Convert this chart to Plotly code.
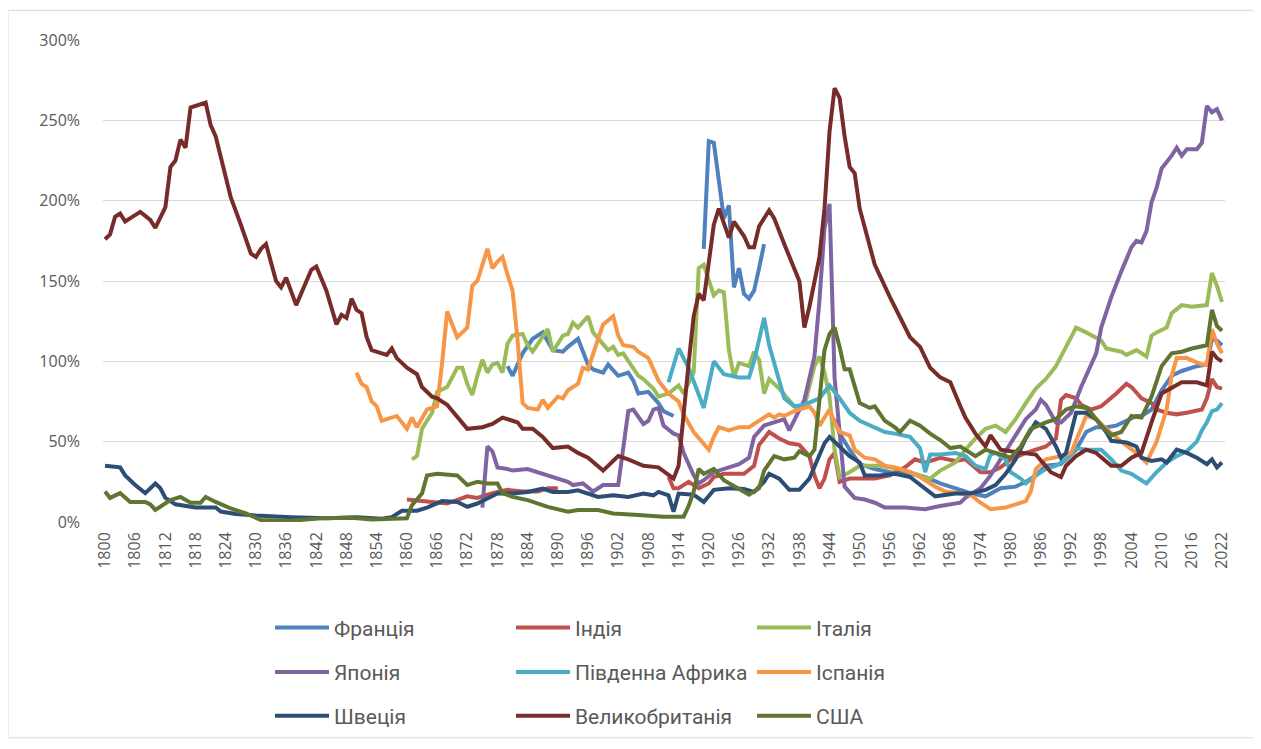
import plotly.graph_objects as go

# ---------------- data (debt, % of GDP) ----------------
france_years = [1880,1881,1883,1885,1887,1889,1891,1892,1894,1896,1897,1899,1900,1902,1904,1905,1906,1908,1910,1911,1913,1914,
                1919,1920,1921,1922,1923,1924,1925,1926,1927,1928,1929,1930,1931,1932,
                1945,1946,1948,1950,1953,1956,1960,1963,1966,1969,1972,1975,1978,1981,1983,1985,1987,1990,1993,1995,1997,1999,2001,2003,2005,2006,2008,2010,2012,2014,2017,2019,2020,2021,2022]
france_vals = [97,91,105,114,118,107,106,109,114,98,95,93,98,91,93,88,80,81,74,69,66,None,
               170,237,236,214,189,197,146,158,142,139,144,158,173,None,
               64,55,45,36,33,31,30,28,24,21,18,16,21,22,25,29,35,36,45,56,59,59,60,63,66,66,70,82,91,94,97,98,114,113,110]

india_years = [1860,1864,1868,1872,1874,1877,1880,1883,1886,1888,1890,1891,
               1912,1913,1914,1916,1918,1920,1921,1923,1927,1929,1930,1932,1934,1936,1938,1940,1941,1942,1943,1944,1945,1946,1948,1953,1956,1959,1961,1963,1966,1969,1971,1974,1976,1978,1980,1983,1987,1989,1990,1991,1993,1994,1996,1998,2001,2003,2004,2006,2008,2009,2011,2013,2015,2018,2019,2020,2021,2022]
india_vals = [14,13,11.5,16,15,18,20,19,19,21,21,None,
              28,21,21,25,21,24,28,30,30,35,48,56,52,49,48,41,29,21,27,39,43,25,27,27,29,34,39,37,40,38,39,31,31,34,39,43,47,52,76,79,77,73,70,72,80,86,84,77,74,70,68,67,68,70,77,89,84,83]

italy_years = [1861,1862,1863,1865,1866,1868,1870,1871,1872,1873,1874,1875,1876,1877,1878,1879,1880,1881,1883,1884,1885,1887,1888,1889,1891,1892,1893,1894,1896,1897,1899,1900,1901,1902,1903,1904,1906,1907,1909,1910,1912,1914,1915,1917,1918,1919,1920,1921,1922,1923,1924,1925,1926,1928,1929,1930,1931,1932,1934,1936,1937,1938,1939,1941,1942,1943,1944,1945,1946,1948,1950,1954,1958,1962,1964,1966,1969,1971,1973,1975,1977,1979,1981,1983,1985,1987,1989,1991,1993,1995,1998,1999,2002,2003,2005,2007,2008,2009,2011,2012,2014,2016,2019,2020,2021,2022]
italy_vals = [39,41,58,68,81,84,96,96,86,79,91,101,93,98,99,93,111,116,117,110,106,116,120,106,116,117,124,121,128,118,110,107,109,104,105,100,91,89,83,78,80,85,80,93,158,160,150,141,144,143,107,90,99,97,106,101,80,89,83,76,72,70,72,97,103,93,78,45,28,31,35,35,33,29,27,32,37,45,52,58,60,56,64,74,83,89,97,109,121,118,113,108,106,104,107,103,116,118,121,130,135,134,135,155,147,137]

japan_years = [1875,1876,1877,1878,1880,1881,1884,1886,1889,1892,1893,1895,1897,1899,1902,1903,1904,1905,1907,1908,1909,1910,1911,1913,1914,1915,1917,1918,1919,1921,1923,1926,1928,1929,1931,1934,1935,1936,1938,1939,1941,1942,1943,1944,1945,1946,1947,1949,1951,1953,1955,1959,1963,1966,1970,1971,1974,1976,1978,1980,1983,1985,1986,1987,1989,1990,1992,1994,1997,1998,2000,2002,2004,2005,2006,2007,2008,2009,2010,2012,2013,2014,2015,2017,2018,2019,2020,2021,2022]
japan_vals = [9,47,44,34,33,32,33,31,28,25,23,24,19,23,23,45,69,70,61,63,70,71,60,55,54,43,29,24,26,31,33,36,40,53,60,63,64,57,69,76,103,138,183,198,90,56,22,15,14,12,9,9,8,10,12,15,21,29,39,50,64,70,76,73,62,62,68,84,105,121,140,156,171,175,174,181,199,208,220,228,233,228,232,232,236,259,255,257,250]

safrica_years = [1912,1914,1916,1917,1919,1921,1923,1926,1928,1929,1931,1932,1934,1935,1937,1939,1942,1944,1946,1948,1950,1952,1955,1957,1960,1962,1963,1964,1966,1969,1971,1973,1975,1976,1977,1979,1980,1982,1983,1985,1987,1989,1991,1993,1995,1998,2000,2002,2004,2006,2007,2009,2011,2013,2015,2017,2018,2019,2020,2021,2022]
safrica_vals = [87,108,96,88,71,100,92,90,90,100,127,110,88,77,72,73,77,85,77,68,63,60,56,55,53,46,31,42,42,43,41,35,33,42,43,39,31,27,24,29,33,35,39,46,45,45,39,32,30,26,24,31,37,41,44,50,57,62,69,70,74]

spain_years = [1850,1851,1852,1853,1854,1855,1856,1858,1859,1860,1861,1862,1864,1866,1867,1868,1870,1872,1873,1874,1876,1877,1878,1879,1880,1881,1882,1883,1884,1886,1887,1888,1890,1891,1892,1894,1895,1896,1898,1899,1901,1902,1903,1905,1906,1908,1910,1912,1914,1915,1917,1920,1921,1922,1924,1926,1928,1930,1932,1933,1934,1935,1937,1940,1941,1942,1944,1945,1946,1948,1949,1951,1953,1955,1957,1960,1962,1965,1967,1972,1974,1976,1979,1981,1983,1984,1985,1987,1990,1992,1994,1995,1997,1999,2002,2005,2007,2009,2011,2012,2013,2015,2018,2019,2020,2021,2022]
spain_vals = [93,86,84,75,72,63,64,66,62,58,65,59,70,72,99,131,115,121,147,150,170,158,162,165,154,144,113,74,71,70,76,71,78,77,82,86,96,95,114,123,128,116,110,109,106,102,88,80,75,67,56,45,53,59,57,59,59,63,67,65,67,66,69,72,68,60,70,62,56,54,45,40,39,35,34,31,28,22,19,17,12,8,9,11,13,19,33,39,41,43,58,66,64,58,50,43,37,50,70,91,102,102,98,98,120,111,105]

sweden_years = [1800,1803,1804,1806,1808,1810,1811,1812,1814,1818,1822,1823,1826,1830,1837,1844,1850,1855,1857,1859,1862,1864,1867,1870,1872,1874,1876,1878,1881,1884,1887,1889,1892,1894,1898,1901,1904,1907,1909,1910,1912,1913,1914,1917,1919,1921,1924,1927,1929,1931,1932,1934,1936,1938,1940,1942,1943,1944,1946,1948,1950,1951,1954,1957,1960,1962,1965,1969,1972,1975,1977,1979,1981,1983,1985,1987,1989,1990,1991,1993,1995,1997,1999,2000,2003,2005,2006,2008,2010,2011,2013,2015,2017,2019,2020,2021,2022]
sweden_vals = [35,34,29,23,18,24,21,15,11,9,9,6.5,5,4,3,2.3,3,2,3,7,7,9,13,12.5,9.5,11.5,14.6,17.7,17.7,18.7,20.8,18.7,18.7,19.7,15.6,16.6,15.6,17.7,16.6,18.7,16.6,6.4,17.7,17,12.5,20,21,20.5,18.7,25,30,27,20,20,27,41,49,53,47,41,37,29,29,30,28,23,16,17.7,17.7,20,23,30,39,52,62,58,47,40,43,68,68,64,56,50.5,49.5,47,40,38,39,37,45,43,40,36,39,34,37]

uk_years = [1800,1801,1802,1803,1804,1807,1809,1810,1812,1813,1814,1815,1816,1817,1820,1821,1822,1825,1827,1829,1830,1831,1832,1834,1835,1836,1838,1841,1842,1844,1846,1847,1848,1849,1850,1851,1852,1853,1855,1856,1857,1858,1860,1862,1863,1865,1866,1868,1872,1875,1877,1879,1881,1882,1883,1885,1887,1889,1892,1894,1896,1899,1902,1904,1907,1910,1913,1914,1916,1917,1918,1919,1921,1922,1924,1925,1927,1928,1929,1930,1932,1933,1935,1937,1938,1939,1940,1942,1943,1944,1945,1946,1947,1948,1949,1950,1952,1953,1956,1958,1960,1962,1964,1966,1968,1970,1971,1973,1975,1976,1978,1980,1985,1988,1990,1991,1993,1995,1997,2000,2002,2004,2006,2008,2010,2014,2017,2019,2020,2021,2022]
uk_vals = [176,179,190,192,187,193,188,183,196,221,225,238,233,258,261,247,240,202,185,167,165,170,173,150,146,152,135,157,159,144,123,129,127,139,132,130,115,107,105,104,108,102,96,92,84,78,77,73,58,59,61,65,63,62,58,58,53,46,47,43,40,32,41,39,35,34,27,35,99,128,142,138,185,195,177,187,178,171,171,184,194,189,173,158,150,121,134,165,195,243,270,264,240,221,217,195,173,160,140,127,115,109,96,90,87,72,65,55,47,54,45,44,42,31,28,35,41,45,43,35,35,40,43,62,80,87,87,85,106,102,100]

usa_years = [1800,1801,1803,1805,1808,1809,1810,1813,1815,1817,1819,1820,1822,1825,1828,1831,1837,1843,1849,1853,1860,1861,1863,1864,1866,1870,1872,1874,1876,1878,1879,1881,1884,1888,1892,1894,1898,1901,1906,1911,1915,1916,1917,1918,1919,1921,1923,1926,1928,1930,1931,1933,1935,1937,1938,1940,1941,1942,1943,1944,1945,1946,1947,1948,1949,1950,1952,1953,1955,1957,1958,1960,1962,1964,1966,1968,1970,1973,1975,1977,1980,1982,1984,1987,1989,1991,1993,1995,1996,1998,2000,2002,2004,2006,2008,2010,2012,2014,2016,2019,2020,2021,2022]
usa_vals = [19,15,18,12.5,12.5,11,7.5,13.6,15.6,12,12,15.6,12.5,8.4,5.3,1.2,0.8,2.3,2.7,1.6,2.3,10.5,17.7,29,30,29,23,25,24,24,18,15.6,13.6,9.4,6.4,7.4,7.4,5.3,4.3,3.3,3.3,10,19,33,30,33,26,21,17,21,32,41,39,40,44,41,45,76,107,117,121,109,95,95,84,74,71,72,63,59,56,63,60,55,51,46,47,41,45,43,40,47,58,62,64,70,72,71,68,60,54,56,66,65,78,97,105,106,108,110,132,122,119]

series_names = ["Франція", "Індія", "Італія", "Японія", "Південна Африка", "Іспанія", "Швеція", "Великобританія", "США"]
series_colors = ["#4F81BD", "#C0504D", "#9BBB59", "#8064A2", "#4BACC6", "#F79646", "#2C4D75", "#772C2A", "#5F7530"]
series_data = [
    (france_years, france_vals), (india_years, india_vals), (italy_years, italy_vals),
    (japan_years, japan_vals), (safrica_years, safrica_vals), (spain_years, spain_vals),
    (sweden_years, sweden_vals), (uk_years, uk_vals), (usa_years, usa_vals),
]

x_ticks = list(range(1800, 2023, 6))
y_ticks = [0, 50, 100, 150, 200, 250, 300]

# ---------------- layout geometry ----------------
OFF = 8                      # page offset of the plot div (body margin)
W, H = 1261 - OFF, 749 - OFF
ML, MR, MT, MB = 103 - OFF, 36, 40 - OFF, 222
PW, PH = W - ML - MR, H - MT - MB


def px_to_paper_x(page_px):
    return (page_px - OFF - ML) / PW


def py_to_paper_y(page_py):
    return (H - MB - (page_py - OFF)) / PH


legend_ids = ["legend"] + [f"legend{i}" for i in range(2, 10)]
col_line_x = [277, 518, 759]          # page px where legend lines start
row_y = [634, 679, 723]               # page px of legend row centres

fig = go.Figure()
for i, ((yrs, vals), name, color) in enumerate(zip(series_data, series_names, series_colors)):
    fig.add_trace(go.Scatter(
        x=yrs, y=[None if v is None else v / 100 for v in vals],
        mode="lines", name=name, legend=legend_ids[i],
        line=dict(color=color, width=4), connectgaps=False,
        hoverinfo="x+y+name",
    ))

tick_font = dict(family="Open Sans, DejaVu Sans, sans-serif", size=16, color="#595959")
leg_font = dict(family="Roboto, Open Sans, sans-serif", size=21, color="#595959")

legend_layouts = {}
for i, lid in enumerate(legend_ids):
    r, c = divmod(i, 3)
    legend_layouts[lid] = dict(
        x=px_to_paper_x(col_line_x[c] - 7), y=py_to_paper_y(row_y[r]),
        xanchor="left", yanchor="middle", orientation="h",
        font=leg_font, itemwidth=54, bgcolor="rgba(0,0,0,0)", borderwidth=0,
        itemclick=False, itemdoubleclick=False,
    )

fig.update_layout(
    width=W, height=H,
    margin=dict(l=ML, r=MR, t=MT, b=MB),
    paper_bgcolor="white", plot_bgcolor="white",
    showlegend=True,
    xaxis=dict(
        range=[1799.6, 2022.6], tickmode="array", tickvals=x_ticks,
        ticktext=[str(t) for t in x_ticks], tickangle=-90, tickfont=tick_font,
        showgrid=False, zeroline=False, showline=False, ticks="",
        ticklabelstandoff=6,
    ),
    yaxis=dict(
        range=[0, 3.0], tickmode="array", tickvals=[v / 100 for v in y_ticks],
        ticktext=[f"{v}%" for v in y_ticks], tickfont=tick_font,
        showgrid=True, gridcolor="#D9D9D9", gridwidth=1.3, zeroline=False,
        showline=False, ticks="", ticklabelstandoff=22,
    ),
    shapes=[dict(type="rect", xref="paper", yref="paper",
                 x0=px_to_paper_x(8), x1=px_to_paper_x(1255),
                 y0=py_to_paper_y(745), y1=py_to_paper_y(10),
                 line=dict(color="#D9D9D9", width=1), layer="below")],
    **legend_layouts,
)

fig.write_html("out.html")
